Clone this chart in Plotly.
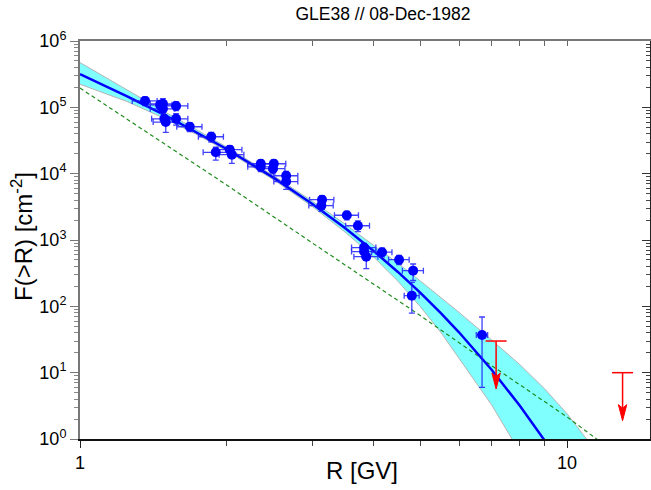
import numpy as np
import plotly.graph_objects as go

# ---------------- data ----------------
R_data = [1.36, 1.46, 1.48, 1.48, 1.49, 1.50, 1.575, 1.575, 1.68, 1.86, 1.90, 2.03, 2.05,
          2.35, 2.35, 2.50, 2.49, 2.65, 2.65, 3.14, 3.13, 3.53, 3.72, 3.83, 3.83, 3.87,
          4.17, 4.52, 4.83, 4.80, 6.69]
F_data = [1.25e5, 1.09e5, 1.13e5, 9.5e4, 6.7e4, 6.0e4, 1.05e5, 6.7e4, 5.1e4, 3.6e4, 2.1e4,
          2.3e4, 1.93e4, 1.41e4, 1.27e4, 1.41e4, 1.19e4, 9.3e3, 7.6e3, 4.05e3, 3.3e3, 2.36e3,
          1.64e3, 770, 670, 560, 655, 505, 345, 145, 37]
R_err = [0.08, 0.085, 0.086, 0.086, 0.087, 0.087, 0.09, 0.09, 0.10, 0.11, 0.11, 0.12, 0.12,
         0.14, 0.14, 0.145, 0.145, 0.15, 0.15, 0.18, 0.18, 0.20, 0.21, 0.22, 0.22, 0.22,
         0.20, 0.22, 0.24, 0.17, 0.18]
F_err_plus = [1.9e4, 1.6e4, 2.2e4, 1.4e4, 1.0e4, 1.2e4, 1.6e4, 1.3e4, 0.8e4, 0.6e4, 0.4e4,
              0.35e4, 0.35e4, 0.2e4, 0.2e4, 0.2e4, 0.2e4, 1.5e3, 1.2e3, 600, 600, 350,
              300, 120, 120, 120, 100, 80, 90, 85, 32]
F_err_minus = [1.9e4, 1.6e4, 2.2e4, 1.4e4, 1.0e4, 1.8e4, 1.6e4, 1.3e4, 0.8e4, 0.6e4, 0.5e4,
               0.35e4, 0.5e4, 0.2e4, 0.2e4, 0.2e4, 0.2e4, 1.5e3, 1.8e3, 600, 600, 350,
               300, 120, 120, 190, 100, 80, 100, 66, 31]

# upper limits
R_ul = [7.15, 13.0]
F_ul = [30, 10]

# fitted spectrum (blue line)
R_fit = [1.0, 1.25, 1.5, 1.75, 2.0, 2.5, 3.0, 3.5, 4.0, 4.5, 5.0, 5.5, 6.0, 7.0, 8.0, 9.0, 9.5]
F_fit = [3.16e5, 1.465e5, 7.49e4, 4.09e4, 2.353e4, 8640, 3500, 1517, 691, 327, 159.5,
         79.7, 40.6, 11.07, 3.17, 0.943, 0.52]

# uncertainty band
R_band_up = [1.0, 1.25, 1.5, 1.75, 2.0, 2.5, 3.0, 3.5, 4.0, 4.5, 5.0, 5.5, 6.0, 7.0, 8.0, 9.0, 10.0, 11.0, 12.0]
F_band_up = [4.73e5, 1.80e5, 8.40e4, 4.44e4, 2.52e4, 9260, 3840, 1740, 851, 441, 241,
             138, 81.0, 31.2, 13.2, 5.68, 2.40, 0.971, 0.383]
R_band_lo = [1.0, 1.25, 1.5, 1.75, 2.0, 2.5, 3.0, 3.5, 4.0, 4.5, 5.0, 5.5, 6.0, 7.0, 8.0, 9.0]
F_band_lo = [2.23e5, 1.22e5, 6.67e4, 3.78e4, 2.20e4, 8060, 3190, 1320, 562, 237, 98.4,
             40.9, 16.5, 3.27, 0.632, 0.119]

# reference spectrum (green dashed)
R_ref = [1.0, 1.5, 2.0, 3.0, 4.0, 5.0, 7.0, 9.0, 10.0, 11.5, 12.0]
F_ref = [1.95e5, 2.75e4, 6760, 901, 220, 72.4, 12.8, 3.68, 2.15, 1.0, 0.85]

y_tick_vals = [1, 10, 100, 1e3, 1e4, 1e5, 1e6]
y_tick_text = ["10<sup>0</sup>", "10<sup>1</sup>", "10<sup>2</sup>", "10<sup>3</sup>",
               "10<sup>4</sup>", "10<sup>5</sup>", "10<sup>6</sup>"]
x_tick_vals = [1, 10]
x_tick_text = ["1", "10"]
x_minor_vals = [2, 3, 4, 5, 6, 7, 8, 9]

title_text = "GLE38 // 08-Dec-1982"
x_title = "R [GV]"
y_title = "F(>R) [cm<sup>-2</sup>]"

# ---------------- figure ----------------
FONT = "Liberation Sans, Arial, sans-serif"
W, H = 651, 490
ML, MR, MT, MB = 80, 1, 41, 51
PW, PH = W - ML - MR, H - MT - MB
XR = [0, np.log10(14.8)]
YR = [0, 6]
dex_per_px_x = (XR[1] - XR[0]) / PW
dex_per_px_y = (YR[1] - YR[0]) / PH
y_minor_vals = [k * 10 ** e for e in range(0, 6) for k in range(2, 10)]

fig = go.Figure()

# band
fig.add_trace(go.Scatter(
    x=R_band_up + R_band_lo[::-1], y=F_band_up + F_band_lo[::-1],
    mode="lines", fill="toself", fillcolor="#80FFFF",
    line=dict(color="#B4B4B4", width=1), hoverinfo="skip", showlegend=False))

# reference power law
fig.add_trace(go.Scatter(
    x=R_ref, y=F_ref, mode="lines",
    line=dict(color="#1E8C1E", width=1.2, dash="4px,3px"), showlegend=False))

# fit
fig.add_trace(go.Scatter(
    x=R_fit, y=F_fit, mode="lines",
    line=dict(color="#0000FF", width=2.5), showlegend=False))

# data
fig.add_trace(go.Scatter(
    x=R_data, y=F_data, mode="markers",
    marker=dict(color="#0000FF", size=10),
    error_x=dict(type="data", array=R_err, color="rgba(30,30,255,0.85)", thickness=1.3, width=3),
    error_y=dict(type="data", array=F_err_plus, arrayminus=F_err_minus,
                 color="rgba(30,30,255,0.85)", thickness=1.3, width=3),
    showlegend=False))

# upper limits: caps, shafts and arrow heads (head size in pixels, mapped to axes)
head_len_px, head_halfw_px, head_notch_px, arrow_len_px = 16, 4.2, 3.5, 48
sx, sy, hx, hy = [], [], [], []
for r, f in zip(R_ul, F_ul):
    f_tip = f * 10 ** (-arrow_len_px * dex_per_px_y)
    f_base = f_tip * 10 ** (head_len_px * dex_per_px_y)
    f_notch = f_tip * 10 ** ((head_len_px - head_notch_px) * dex_per_px_y)
    rw = 10 ** (head_halfw_px * dex_per_px_x)
    sx += [r, r, None]
    sy += [f, f_notch, None]
    hx += [r, r * rw, r, r / rw, r, None]
    hy += [f_tip, f_base, f_notch, f_base, f_tip, None]

fig.add_trace(go.Scatter(x=sx, y=sy, mode="lines", line=dict(color="#FF0000", width=1.5),
                         hoverinfo="skip", showlegend=False))
fig.add_trace(go.Scatter(x=hx, y=hy, mode="lines", fill="toself", fillcolor="#FF0000",
                         line=dict(color="#FF0000", width=1), hoverinfo="skip", showlegend=False))
fig.add_trace(go.Scatter(
    x=R_ul, y=F_ul, mode="markers",
    marker=dict(symbol="line-ew", size=15, line=dict(color="#FF0000", width=1.5)),
    showlegend=False))

# dummy trace for mirrored axes
fig.add_trace(go.Scatter(x=[2], y=[10], xaxis="x2", yaxis="y2", mode="markers",
                         marker=dict(opacity=0), hoverinfo="skip", showlegend=False))

# axis titles as annotations (placed like the reference)
fig.add_annotation(text=x_title, xref="paper", yref="paper",
                   x=(362 - ML) / PW, y=-(471 - (MT + PH)) / PH,
                   xanchor="center", yanchor="middle", showarrow=False,
                   font=dict(size=24, family=FONT, color="black"))
fig.add_annotation(text=y_title, xref="paper", yref="paper",
                   x=(22 - ML) / PW, y=((MT + PH) - 237) / PH, textangle=-90,
                   xanchor="center", yanchor="middle", showarrow=False,
                   font=dict(size=24, family=FONT, color="black"))

fig.update_layout(
    width=W, height=H,
    margin=dict(l=ML, r=MR, t=MT, b=MB, autoexpand=False),
    paper_bgcolor="white", plot_bgcolor="white",
    font=dict(family=FONT, color="black"),
    title=dict(text=title_text, x=383 / W, xref="container", xanchor="center",
               y=1 - 14 / H, yref="container", yanchor="middle",
               font=dict(size=17.5, family=FONT, color="black")),
    xaxis=dict(type="log", range=XR, tickvals=x_tick_vals, ticktext=x_tick_text,
               ticks="outside", ticklen=7, tickwidth=1.2, tickcolor="#222",
               minor=dict(tickvals=x_minor_vals, ticks="outside", ticklen=5, tickwidth=1,
                          tickcolor="#444", showgrid=False),
               showline=True, linecolor="#111", linewidth=1.5, showgrid=False, zeroline=False,
               automargin=False, tickfont=dict(size=18)),
    xaxis2=dict(type="log", range=XR, overlaying="x", side="top", anchor="y",
                tickvals=x_tick_vals + x_minor_vals, showticklabels=False,
                ticks="inside", ticklen=5, tickwidth=1, tickcolor="#666",
                showline=True, linecolor="#777", linewidth=2, showgrid=False, zeroline=False,
                automargin=False),
    yaxis=dict(type="log", range=YR, tickvals=y_tick_vals, ticktext=y_tick_text,
               ticks="outside", ticklen=8, tickwidth=1.2, tickcolor="#777",
               minor=dict(tickvals=y_minor_vals, ticks="outside", ticklen=4, tickwidth=1,
                          tickcolor="#888", showgrid=False),
               showline=True, linecolor="#777", linewidth=2, showgrid=False, zeroline=False,
               automargin=False, tickfont=dict(size=18)),
    yaxis2=dict(type="log", range=YR, overlaying="y", side="right", anchor="x",
                tickvals=y_tick_vals, showticklabels=False,
                ticks="inside", ticklen=8, tickwidth=1.2, tickcolor="#333",
                minor=dict(tickvals=y_minor_vals, ticks="inside", ticklen=4, tickwidth=1,
                           tickcolor="#444", showgrid=False),
                showline=True, linecolor="#222", linewidth=1.5, showgrid=False, zeroline=False,
                automargin=False),
)

fig.write_html("out.html", config={"displayModeBar": False},
               post_script="document.body.style.margin='0px';")
